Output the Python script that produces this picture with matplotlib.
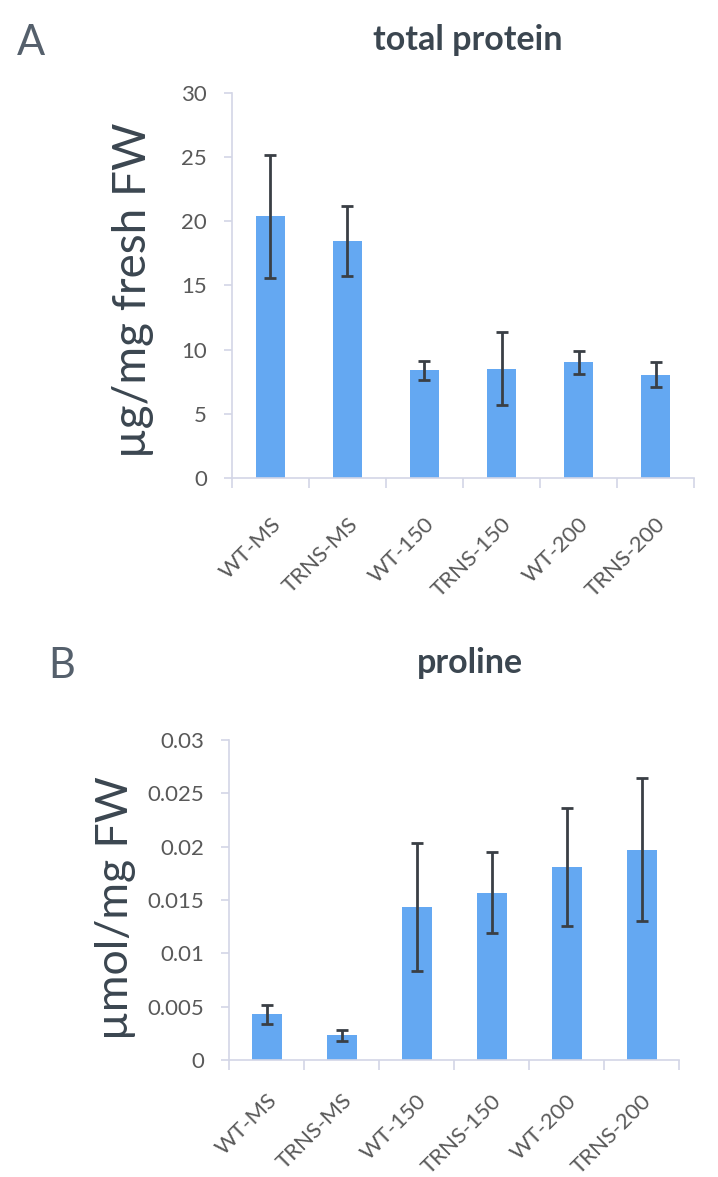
import numpy as np
import matplotlib.pyplot as plt

plt.rcParams['font.family'] = ['Lato', 'DejaVu Sans']

groups = ["WT-MS", "TRNS-MS", "WT-150", "TRNS-150", "WT-200", "TRNS-200"]

protein = [20.4, 18.45, 8.4, 8.5, 9.0, 8.05]
protein_err = [4.8, 2.75, 0.75, 2.85, 0.88, 0.95]

proline = [0.0043, 0.0023, 0.0143, 0.0157, 0.0181, 0.0197]
proline_err = [0.0009, 0.0005, 0.006, 0.0038, 0.0055, 0.0067]

bar_color = "#64a8f2"
axis_color = "#d3d6e6"
text_color = "#595959"
title_color = "#3b4650"


def draw_panel(ax, vals, errs, ymax, ystep, fmt, width, label_pad):
    x = np.arange(len(groups))
    ax.bar(x, vals, width=width, color=bar_color, zorder=2)
    ax.errorbar(x, vals, yerr=errs, fmt="none", ecolor="#3a3f45",
                elinewidth=2, capsize=4, capthick=2, zorder=3)
    ax.set_xlim(-0.5, len(groups) - 0.5)
    ax.set_ylim(0, ymax)
    ticks = np.arange(0, ymax + ystep / 2, ystep)
    ax.set_yticks(ticks)
    ax.set_yticklabels([fmt(t) for t in ticks], fontsize=16, color=text_color)
    # category separators as major ticks, names on minor ticks
    ax.set_xticks(np.arange(-0.5, len(groups) + 0.5, 1.0))
    ax.set_xticklabels([])
    ax.set_xticks(x, minor=True)
    ax.set_xticklabels(groups, minor=True, rotation=45, ha="right", va="top",
                       rotation_mode="anchor", fontsize=16, color=text_color)
    ax.tick_params(axis="x", which="minor", length=0, pad=label_pad)
    ax.tick_params(axis="x", which="major", length=7, color=axis_color, width=1.2)
    ax.tick_params(axis="y", length=6, color=axis_color, width=1.2, pad=12)
    for s in ["top", "right"]:
        ax.spines[s].set_visible(False)
    for s in ["left", "bottom"]:
        ax.spines[s].set_color(axis_color)
        ax.spines[s].set_linewidth(1.2)


fig = plt.figure(figsize=(7.18, 11.77), dpi=100)

ax1 = fig.add_axes([0.3231, 0.5939, 0.6435, 0.3271])
draw_panel(ax1, protein, protein_err, 30, 5, lambda t: "%d" % t, 0.38, 26)

ax2 = fig.add_axes([0.319, 0.0994, 0.6267, 0.2719])
draw_panel(ax2, proline, proline_err, 0.03, 0.005,
           lambda t: "0" if t == 0 else ("%.3f" % t).rstrip("0"), 0.4, 22)

fig.text(133 / 718, 1 - 290 / 1177, "µg/mg fresh FW", rotation=90,
         ha="center", va="center", fontsize=33, color=title_color)
fig.text(115 / 718, 1 - 908 / 1177, "µmol/mg FW", rotation=90,
         ha="center", va="center", fontsize=32, color=title_color)

fig.text(468 / 718, 1 - 40 / 1177, "total protein", ha="center", va="center",
         fontsize=24.5, fontweight="bold", color=title_color)
fig.text(470 / 718, 1 - 663 / 1177, "proline", ha="center", va="center",
         fontsize=24.5, fontweight="bold", color=title_color)
fig.text(31 / 718, 1 - 43 / 1177, "A", ha="center", va="center",
         fontsize=30, color="#55606c")
fig.text(62 / 718, 1 - 666 / 1177, "B", ha="center", va="center",
         fontsize=30, color="#55606c")

fig.savefig("out.png", dpi=100)
